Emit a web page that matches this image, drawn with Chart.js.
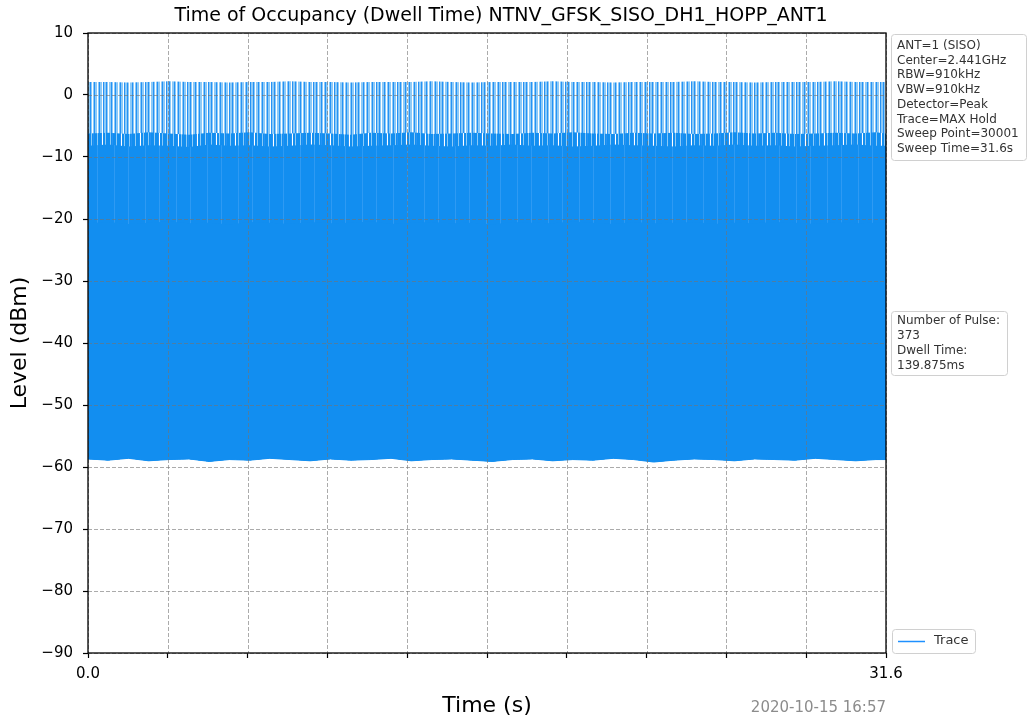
<!DOCTYPE html>
<html>
<head>
<meta charset="utf-8">
<title>Dwell Time</title>
<script src="https://cdn.jsdelivr.net/npm/chart.js@4.4.0/dist/chart.umd.min.js"></script>
<style>
  html, body { margin: 0; padding: 0; background: #fff; }
  canvas { display: block; }
</style>
</head>
<body>
<canvas id="dwellChart" width="1029" height="723"></canvas>
<script>
const chartTitle = "Time of Occupancy (Dwell Time) NTNV_GFSK_SISO_DH1_HOPP_ANT1";

// sample times (s) of the trace envelope
const timeS = [0.0, 0.8, 1.6, 2.4, 3.2, 4.0, 4.8, 5.6, 6.4, 7.2, 8.0, 8.8, 9.6, 10.4,
  11.2, 12.0, 12.8, 13.6, 14.4, 15.2, 16.0, 16.8, 17.6, 18.4, 19.2, 20.0, 20.8, 21.6,
  22.4, 23.2, 24.0, 24.8, 25.6, 26.4, 27.2, 28.0, 28.8, 29.6, 30.4, 31.2, 31.6];

// noise floor (dBm)
const floorLevel = [-58.7, -58.9, -58.6, -59.0, -58.8, -58.7, -59.1, -58.8, -58.9, -58.6,
  -58.8, -59.0, -58.7, -58.9, -58.8, -58.6, -59.0, -58.8, -58.7, -58.9, -59.1, -58.8,
  -58.7, -59.0, -58.8, -58.9, -58.6, -58.8, -59.2, -58.9, -58.7, -58.8, -59.0, -58.7,
  -58.8, -58.9, -58.6, -58.8, -59.0, -58.8, -58.8];

// solid core of the hopping trace
const coreTop = [-20.7, -20.5, -20.8, -20.6, -20.4, -20.7, -20.6, -20.9, -20.5, -20.6,
  -20.8, -20.5, -20.7, -20.6, -20.4, -20.8, -20.6, -20.5, -20.7, -20.6, -20.9, -20.5,
  -20.6, -20.7, -20.4, -20.6, -20.8, -20.5, -20.7, -20.6, -20.5, -20.8, -20.6, -20.7,
  -20.5, -20.6, -20.8, -20.5, -20.7, -20.6, -20.6];

const solidTop = [-8.2, -8.0, -8.3, -8.1, -8.2, -8.4, -8.0, -8.2, -8.1, -8.3,
  -8.2, -8.0, -8.1, -8.3, -8.2, -8.1, -8.0, -8.2, -8.3, -8.1, -8.2, -8.0,
  -8.2, -8.1, -8.3, -8.2, -8.0, -8.1, -8.2, -8.3, -8.1, -8.2, -8.0, -8.2,
  -8.1, -8.3, -8.2, -8.1, -8.0, -8.2, -8.2];

const midTop = [-6.2, -6.1, -6.3, -6.0, -6.2, -6.4, -6.1, -6.2, -6.0, -6.3,
  -6.2, -6.1, -6.2, -6.4, -6.1, -6.2, -6.0, -6.3, -6.2, -6.1, -6.2, -6.3,
  -6.1, -6.2, -6.0, -6.2, -6.3, -6.1, -6.2, -6.1, -6.3, -6.2, -6.0, -6.2,
  -6.1, -6.3, -6.2, -6.1, -6.2, -6.0, -6.2];

// pulse peaks
const peakTop = [2.1, 2.1, 2.0, 2.1, 2.2, 2.1, 2.1, 2.0, 2.1, 2.1,
  2.2, 2.1, 2.1, 2.0, 2.1, 2.1, 2.1, 2.2, 2.1, 2.0, 2.1, 2.1,
  2.1, 2.2, 2.1, 2.1, 2.0, 2.1, 2.1, 2.1, 2.2, 2.1, 2.1, 2.0,
  2.1, 2.1, 2.1, 2.2, 2.1, 2.1, 2.1];

const xTickValues = [0, 3.16, 6.32, 9.48, 12.64, 15.8, 18.96, 22.12, 25.28, 28.44, 31.6];
const yTickValues = [-90, -80, -70, -60, -50, -40, -30, -20, -10, 0, 10];

const settingLines = ["ANT=1 (SISO)", "Center=2.441GHz", "RBW=910kHz", "VBW=910kHz",
  "Detector=Peak", "Trace=MAX Hold", "Sweep Point=30001", "Sweep Time=31.6s"];
const pulseLines = ["Number of Pulse:", "373", "Dwell Time:", "139.875ms"];
const legendLabel = "Trace";
const dateStamp = "2020-10-15 16:57";

Chart.defaults.font.family = "'DejaVu Sans', sans-serif";
Chart.defaults.color = "#000";

const canvas = document.getElementById("dwellChart");
const ctx = canvas.getContext("2d");

const solidBlue = "#128ef0";
const traceBlue = "#1e90ff";

// vertical stripe fills to mimic the dense pulse lines
function makeStripes(colors) {
  const tile = document.createElement("canvas");
  tile.width = colors.length;
  tile.height = 1;
  const tctx = tile.getContext("2d");
  colors.forEach((c, i) => {
    tctx.fillStyle = c;
    tctx.fillRect(i, 0, 1, 1);
  });
  return ctx.createPattern(tile, "repeat");
}

const L = "#8dcaf7", D = "#2592f5", W = "#ffffff", S = solidBlue, P = "#2e9af3";
const spikeFill = makeStripes([L, D, L, W, L, L, D, L, W, L, D, L, L, W, L, D, L, L, W, D, L]);
const denseFill = makeStripes([S, S, L, S, S, S, D, W, S, S, L, S, S, S, S, L, S, D, S]);
const streakFill = makeStripes([S, S, S, S, P, S, S, S, S, S, S, S, S, S, S, S, S, S, S, S, S, P, S, S, S, S, S, S, S, S, S]);

const toPoints = (vals) => vals.map((v, i) => ({ x: timeS[i], y: v }));

function box(c, x, y, w, h) {
  c.beginPath();
  if (c.roundRect) c.roundRect(x + 0.5, y + 0.5, w, h, 3);
  else c.rect(x + 0.5, y + 0.5, w, h);
  c.fillStyle = "#fff";
  c.fill();
  c.strokeStyle = "#d0d0d0";
  c.lineWidth = 1;
  c.stroke();
}

const extras = {
  id: "extras",
  afterDatasetsDraw(chart) {
    const { ctx: c, chartArea: a, scales } = chart;
    c.save();
    c.strokeStyle = "rgba(115,115,115,0.6)";
    c.lineWidth = 1;
    c.setLineDash([4, 2]);
    yTickValues.forEach((v) => {
      const y = Math.round(scales.y.getPixelForValue(v)) + 0.5;
      c.beginPath();
      c.moveTo(a.left, y);
      c.lineTo(a.right, y);
      c.stroke();
    });
    xTickValues.forEach((v) => {
      const x = Math.round(scales.x.getPixelForValue(v)) + 0.5;
      c.beginPath();
      c.moveTo(x, a.top);
      c.lineTo(x, a.bottom);
      c.stroke();
    });
    c.setLineDash([]);
    c.strokeStyle = "#000";
    c.lineWidth = 1.3;
    c.strokeRect(a.left, a.top, a.right - a.left, a.bottom - a.top);
    c.restore();
  },
  afterDraw(chart) {
    const c = chart.ctx;
    c.save();
    c.fillStyle = "#000";
    c.font = "19px 'DejaVu Sans'";
    c.textAlign = "center";
    c.textBaseline = "middle";
    c.fillText(chartTitle, 501, 16);

    c.font = "12px 'DejaVu Sans'";
    c.textAlign = "left";
    c.textBaseline = "alphabetic";

    box(c, 891, 34, 135, 126);
    c.fillStyle = "#333";
    settingLines.forEach((t, i) => c.fillText(t, 897, 48.8 + i * 14.75));

    box(c, 891, 311, 116, 64);
    c.fillStyle = "#333";
    pulseLines.forEach((t, i) => c.fillText(t, 897, 324 + i * 15));

    box(c, 892, 629, 83, 24);
    c.strokeStyle = traceBlue;
    c.lineWidth = 1.5;
    c.beginPath();
    c.moveTo(898, 641.5);
    c.lineTo(925, 641.5);
    c.stroke();
    c.fillStyle = "#333";
    c.font = "13px 'DejaVu Sans'";
    c.textBaseline = "middle";
    c.fillText(legendLabel, 934, 641);

    c.font = "15px 'DejaVu Sans'";
    c.fillStyle = "#8c8c8c";
    c.textAlign = "right";
    c.fillText(dateStamp, 886, 708);
    c.restore();
  },
};

new Chart(ctx, {
  type: "line",
  data: {
    datasets: [
      { label: legendLabel, data: toPoints(floorLevel), borderColor: solidBlue, borderWidth: 1,
        pointRadius: 0, fill: false },
      { data: toPoints(coreTop), borderColor: "transparent", borderWidth: 0, pointRadius: 0,
        fill: 0, backgroundColor: solidBlue },
      { data: toPoints(solidTop), borderColor: "transparent", borderWidth: 0, pointRadius: 0,
        fill: 0, backgroundColor: streakFill },
      { data: toPoints(midTop), borderColor: "transparent", borderWidth: 0, pointRadius: 0,
        fill: 0, backgroundColor: denseFill },
      { data: toPoints(peakTop), borderColor: "transparent", borderWidth: 0, pointRadius: 0,
        fill: 0, backgroundColor: spikeFill },
    ],
  },
  options: {
    responsive: false,
    animation: false,
    devicePixelRatio: 1,
    layout: { padding: { top: 33, right: 143, bottom: 0, left: 0 } },
    plugins: {
      legend: { display: false },
      tooltip: { enabled: false },
      title: { display: false },
    },
    scales: {
      x: {
        type: "linear",
        min: 0,
        max: 31.6,
        afterBuildTicks: (s) => { s.ticks = xTickValues.map((v) => ({ value: v })); },
        afterFit: (s) => { s.height = 70; },
        ticks: {
          autoSkip: false,
          maxRotation: 0,
          padding: 7,
          font: { size: 15 },
          callback: (v) => (v === 0 ? "0.0" : v === 31.6 ? "31.6" : ""),
        },
        grid: { drawOnChartArea: false, drawTicks: true, tickLength: 5, tickColor: "#000", tickWidth: 1.2 },
        border: { display: false },
        title: { display: true, text: "Time (s)", font: { size: 22 }, padding: { top: 0, bottom: 4 } },
      },
      y: {
        min: -90,
        max: 10,
        afterBuildTicks: (s) => { s.ticks = yTickValues.map((v) => ({ value: v })); },
        afterFit: (s) => { s.width = 88; },
        ticks: {
          padding: 10,
          font: { size: 15 },
          callback: (v) => String(v).replace("-", "\u2212"),
        },
        grid: { drawOnChartArea: false, drawTicks: true, tickLength: 5, tickColor: "#000", tickWidth: 1.2 },
        border: { display: false },
        title: { display: true, text: "Level (dBm)", font: { size: 22 }, padding: { top: 7, bottom: 0 } },
      },
    },
  },
  plugins: [extras],
});
</script>
</body>
</html>
